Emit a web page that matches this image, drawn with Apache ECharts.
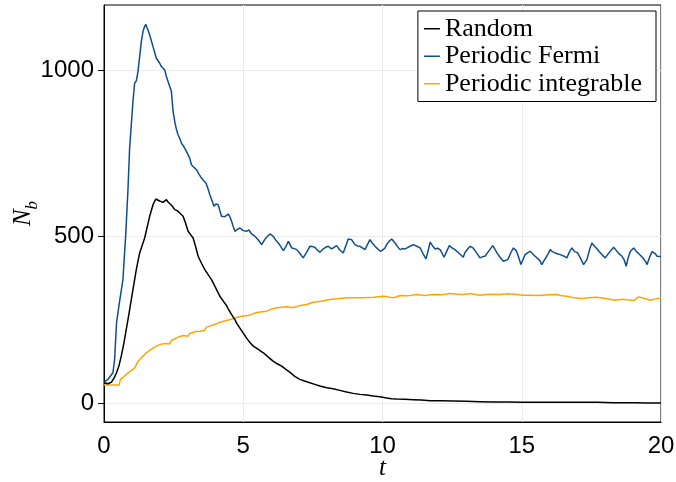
<!DOCTYPE html>
<html>
<head>
<meta charset="utf-8">
<script src="https://cdn.jsdelivr.net/npm/echarts@6/dist/echarts.min.js"></script>
<style>
  html, body { margin: 0; padding: 0; background: #fff; }
  #chart { width: 676px; height: 482px; }
</style>
</head>
<body>
<div id="chart"></div>
<script>
var seriesNames = ['Random', 'Periodic Fermi', 'Periodic integrable'];
var yTicks = [0, 500, 1000];

var randomT = [0, 0.14, 0.27, 0.36, 0.45, 0.54, 0.62, 0.71, 0.80, 0.89, 0.98, 1.07, 1.16, 1.28, 1.46, 1.64, 1.76, 1.86, 1.93, 2.0, 2.06, 2.12, 2.18, 2.24, 2.30, 2.36, 2.45, 2.54, 2.63, 2.72, 2.78, 2.84, 2.93, 3.02, 3.11, 3.20, 3.29, 3.38, 3.50, 3.62, 3.74, 3.86, 4.01, 4.16, 4.31, 4.40, 4.46, 4.55, 4.64, 4.70, 4.76, 4.88, 5.0, 5.12, 5.24, 5.36, 5.54, 5.72, 5.9, 6.07, 6.22, 6.38, 6.53, 6.68, 6.85, 7.03, 7.2, 7.39, 7.57, 7.75, 8.0, 8.23, 8.47, 8.71, 8.95, 9.19, 9.43, 9.67, 9.9, 10.15, 10.33, 10.51, 10.8, 11.1, 11.4, 11.71, 12.1, 12.54, 13.0, 13.5, 14.0, 14.5, 15.0, 15.5, 16.0, 16.5, 17.0, 17.7, 18.3, 19.0, 19.5, 20.0];
var randomN = [61, 58, 63, 75, 91, 113, 141, 178, 221, 265, 311, 356, 401, 451, 496, 561, 596, 613, 610, 607, 606, 603, 605, 611, 604, 601, 592, 581, 578, 571, 566, 561, 540, 516, 506, 496, 470, 441, 420, 401, 386, 371, 346, 321, 303, 293, 283, 270, 258, 251, 240, 225, 210, 195, 182, 171, 161, 151, 138, 126, 118, 111, 101, 92, 80, 71, 66, 61, 56, 51, 46, 43, 38, 33, 29, 26, 24, 21, 19, 15, 13, 12, 11, 10, 9, 7, 7, 6, 5, 4, 3, 3, 2, 2, 2, 2, 2, 2, 1, 1, 0, 0];

var fermiT = [0, 0.15, 0.32, 0.38, 0.45, 0.55, 0.68, 0.78, 0.86, 0.92, 1.04, 1.10, 1.16, 1.22, 1.34, 1.40, 1.45, 1.50, 1.54, 1.58, 1.64, 1.76, 1.88, 1.94, 2.0, 2.06, 2.12, 2.18, 2.24, 2.30, 2.36, 2.42, 2.48, 2.54, 2.60, 2.66, 2.72, 2.78, 2.87, 2.96, 3.02, 3.08, 3.14, 3.23, 3.32, 3.41, 3.50, 3.58, 3.66, 3.73, 3.80, 3.88, 3.95, 4.02, 4.10, 4.16, 4.22, 4.34, 4.46, 4.52, 4.58, 4.64, 4.70, 4.79, 4.88, 5.0, 5.12, 5.2, 5.3, 5.42, 5.54, 5.66, 5.8, 5.96, 6.08, 6.16, 6.26, 6.35, 6.44, 6.53, 6.62, 6.74, 6.83, 6.92, 7.03, 7.15, 7.27, 7.39, 7.48, 7.57, 7.66, 7.75, 7.87, 7.96, 8.05, 8.17, 8.26, 8.35, 8.47, 8.59, 8.68, 8.77, 8.89, 9.01, 9.10, 9.19, 9.28, 9.37, 9.46, 9.55, 9.64, 9.73, 9.85, 9.93, 10.0, 10.08, 10.15, 10.24, 10.33, 10.45, 10.54, 10.63, 10.72, 10.81, 10.9, 10.99, 11.11, 11.23, 11.35, 11.45, 11.56, 11.64, 11.71, 11.8, 11.89, 11.98, 12.07, 12.14, 12.21, 12.30, 12.40, 12.5, 12.6, 12.75, 12.90, 12.96, 13.05, 13.15, 13.25, 13.35, 13.50, 13.6, 13.68, 13.8, 13.96, 14.04, 14.11, 14.22, 14.34, 14.5, 14.6, 14.70, 14.8, 14.88, 14.97, 15.05, 15.12, 15.22, 15.30, 15.4, 15.48, 15.55, 15.65, 15.72, 15.8, 15.9, 16.02, 16.1, 16.2, 16.3, 16.38, 16.5, 16.62, 16.7, 16.80, 16.9, 17.0, 17.1, 17.22, 17.34, 17.45, 17.52, 17.6, 17.68, 17.77, 17.88, 18.0, 18.1, 18.2, 18.30, 18.4, 18.5, 18.6, 18.68, 18.75, 18.82, 18.90, 19.02, 19.12, 19.25, 19.35, 19.45, 19.50, 19.6, 19.68, 19.74, 19.8, 19.86, 19.93, 20.0];
var fermiN = [63, 72, 91, 130, 241, 300, 371, 506, 641, 766, 906, 961, 968, 996, 1086, 1116, 1130, 1138, 1128, 1121, 1106, 1071, 1036, 1030, 1021, 1011, 1008, 1001, 981, 966, 971, 936, 876, 846, 822, 806, 795, 781, 770, 756, 762, 735, 716, 708, 701, 688, 676, 668, 661, 645, 626, 608, 591, 598, 596, 578, 561, 560, 568, 560, 546, 530, 516, 522, 526, 518, 516, 520, 508, 501, 490, 476, 495, 508, 501, 490, 481, 470, 458, 470, 486, 466, 464, 461, 450, 436, 452, 471, 470, 468, 460, 453, 463, 468, 471, 463, 468, 473, 460, 451, 472, 493, 491, 476, 472, 471, 466, 461, 476, 491, 480, 471, 461, 456, 453, 465, 476, 486, 493, 481, 470, 461, 464, 463, 467, 471, 476, 471, 466, 450, 433, 458, 483, 472, 463, 465, 461, 450, 438, 455, 473, 466, 461, 450, 438, 452, 462, 471, 466, 455, 436, 440, 441, 455, 473, 462, 451, 438, 426, 431, 450, 466, 458, 440, 416, 432, 446, 452, 456, 448, 441, 443, 428, 416, 428, 441, 461, 455, 451, 448, 446, 442, 436, 452, 466, 455, 452, 437, 416, 431, 465, 481, 472, 466, 456, 446, 436, 448, 458, 468, 458, 448, 441, 430, 411, 436, 456, 466, 455, 445, 436, 425, 416, 440, 455, 461, 448, 441, 444, 440];

var integT = [0, 0.54, 0.59, 0.7, 0.80, 0.92, 1.04, 1.12, 1.16, 1.22, 1.28, 1.4, 1.52, 1.7, 1.88, 2.05, 2.18, 2.36, 2.42, 2.48, 2.66, 2.84, 3.02, 3.08, 3.14, 3.30, 3.44, 3.6, 3.68, 3.74, 3.98, 4.16, 4.40, 4.64, 4.80, 4.94, 5.24, 5.4, 5.54, 5.84, 6.0, 6.20, 6.56, 6.8, 7.0, 7.27, 7.51, 7.8, 8.11, 8.4, 8.71, 9.0, 9.31, 9.7, 10.03, 10.2, 10.39, 10.63, 10.9, 11.23, 11.5, 11.83, 12.1, 12.43, 12.7, 12.9, 13.15, 13.5, 13.8, 14.22, 14.5, 14.82, 15.05, 15.30, 15.6, 16.0, 16.26, 16.45, 16.62, 16.9, 17.16, 17.4, 17.70, 18.0, 18.36, 18.6, 18.8, 19.02, 19.2, 19.4, 19.62, 19.8, 20.0];
var integN = [54, 54, 71, 78, 86, 94, 101, 108, 111, 125, 131, 141, 151, 162, 171, 177, 179, 178, 188, 191, 198, 203, 201, 209, 213, 215, 216, 218, 228, 231, 236, 243, 248, 253, 258, 261, 264, 270, 273, 276, 282, 286, 289, 287, 292, 296, 303, 306, 311, 313, 316, 316, 316, 318, 321, 319, 316, 323, 322, 326, 323, 326, 325, 329, 327, 326, 329, 324, 327, 326, 328, 326, 324, 324, 323, 325, 326, 322, 321, 316, 314, 316, 318, 314, 309, 312, 310, 308, 319, 314, 309, 313, 316];

function pairs(ts, vs) {
  var out = [];
  for (var i = 0; i < ts.length; i++) {
    out.push([ts[i], vs[i]]);
  }
  return out;
}

var chart = echarts.init(document.getElementById('chart'));

var tickFont = 'Liberation Sans, Arial, sans-serif';
var serifFont = 'Liberation Serif, Times New Roman, serif';

var option = {
  animation: false,
  backgroundColor: '#fff',
  grid: {
    left: 104, right: 15, top: 5, bottom: 60,
    outerBoundsMode: 'none',
    containLabel: false,
    show: true, borderColor: '#000', borderWidth: 1
  },
  legend: {
    data: seriesNames,
    orient: 'vertical',
    right: 20,
    top: 11,
    backgroundColor: '#fff',
    borderColor: '#000',
    borderWidth: 1,
    borderRadius: 0,
    padding: [4, 14, 4, 6],
    itemGap: 0,
    itemWidth: 16,
    itemHeight: 1.5,
    icon: 'rect',
    textStyle: { fontFamily: serifFont, fontSize: 26, lineHeight: 27.5, color: '#000' }
  },
  xAxis: {
    type: 'value',
    min: 0, max: 20, interval: 5,
    name: 't',
    nameLocation: 'middle',
    nameGap: 34,
    nameMoveOverlap: false,
    nameTextStyle: { fontFamily: serifFont, fontStyle: 'italic', fontSize: 25, color: '#000' },
    axisLine: { onZero: false, lineStyle: { color: '#000', width: 1 } },
    axisTick: { show: false },
    axisLabel: { fontFamily: tickFont, fontSize: 24, color: '#000', margin: 12 },
    splitLine: { lineStyle: { color: '#ebebeb', width: 1 } }
  },
  yAxis: {
    type: 'value',
    min: -57, max: 1196, splitNumber: 2,
    name: '{n|N}{s|b}',
    nameLocation: 'middle',
    nameGap: 63,
    nameMoveOverlap: false,
    nameTextStyle: {
      rich: {
        n: { fontFamily: serifFont, fontStyle: 'italic', fontSize: 25, color: '#000', lineHeight: 30, verticalAlign: 'top' },
        s: { fontFamily: serifFont, fontStyle: 'italic', fontSize: 17, color: '#000', lineHeight: 17, verticalAlign: 'bottom' }
      }
    },
    axisLine: { show: true, onZero: false, lineStyle: { color: '#000', width: 1 } },
    axisTick: { show: true, length: 6, customValues: yTicks, lineStyle: { color: '#000' } },
    axisLabel: {
      customValues: yTicks, fontFamily: tickFont, fontSize: 24, color: '#000', margin: 10,
      formatter: function (v) { return String(v); }
    },
    splitLine: { lineStyle: { color: '#ebebeb', width: 1 } }
  },
  series: [
    {
      name: seriesNames[0], type: 'line', showSymbol: false, symbol: 'none',
      color: '#000000', lineStyle: { width: 1.5 }, data: pairs(randomT, randomN), z: 3
    },
    {
      name: seriesNames[1], type: 'line', showSymbol: false, symbol: 'none',
      color: '#104E8B', lineStyle: { width: 1.5 }, data: pairs(fermiT, fermiN), z: 2
    },
    {
      name: seriesNames[2], type: 'line', showSymbol: false, symbol: 'none',
      color: '#FFA500', lineStyle: { width: 1.5 }, data: pairs(integT, integN), z: 1
    }
  ]
};

chart.setOption(option);
</script>
</body>
</html>
